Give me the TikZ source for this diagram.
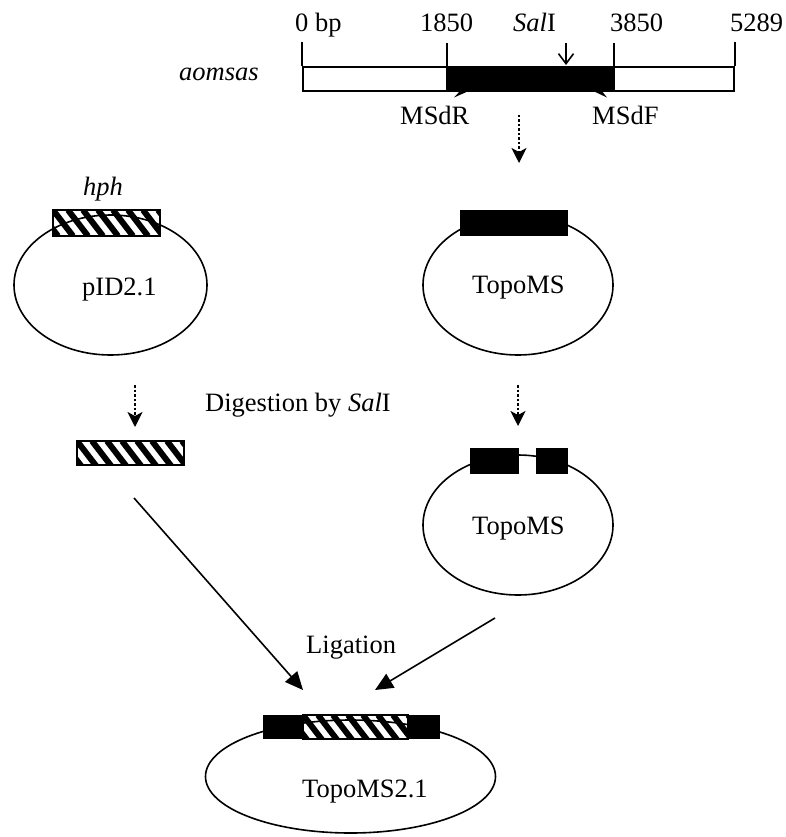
\documentclass[tikz,border=0pt]{standalone}
\usepackage{fontspec}
\setmainfont{Liberation Serif}
\usetikzlibrary{arrows.meta,shapes.geometric}
\newcommand\hatchfill[4]{%
  \begin{scope}
    \clip (#1,#2) rectangle (#3,#4);
    \foreach \s in {-45,-30,...,150}
      \draw[line width=6pt] ({#1+\s},#2) -- ++(20,26);
  \end{scope}}
\begin{document}
\begin{tikzpicture}[x=1pt,y=-1pt,
  lbl/.style={inner sep=0pt, font=\fontsize{26.5}{30}\selectfont, anchor=base west},
  plasmid/.style={draw, line width=1.6pt, ellipse, inner sep=0pt},
  blackbox/.style={fill=black, draw=none, inner sep=0pt, rectangle},
  hatchbox/.style={draw, line width=2pt, inner sep=0pt, rectangle},
  dotarrow/.style={line width=2pt, dash pattern=on 2.5pt off 2pt,
     -{Stealth[length=15pt,width=15pt,inset=4pt]}},
  solidarrow/.style={line width=1.6pt, -{Triangle[length=18pt,width=16pt]}},
  tick/.style={line width=2pt}]
\useasboundingbox (0,0) rectangle (786,837);

% ---- gene map ----
\node[draw, line width=2pt, minimum width=431pt, minimum height=24pt, inner sep=0pt] (gene) at (518.5,79) {};
\node[blackbox, minimum width=167pt, minimum height=24pt] (core) at (530.5,79) {};
\draw[tick] (gene.north west) -- ++(0,-24);
\draw[tick] (core.north west) -- ++(0,-24);
\draw[tick] (core.north east) -- ++(0,-24);
\draw[tick] (gene.north east) -- ++(0,-24);
\draw[tick] (core.south west) -- (core.north west);
\draw[tick] (core.south east) -- (core.north east);

\node[lbl] (l0) at (295,32) {0 bp};
\node[lbl] (l1850) at (420,32) {1850};
\node[lbl] (lsal) at (513,32) {\itshape Sal\upshape I};
\node[lbl] (l3850) at (610,32) {3850};
\node[lbl] (l5289) at (730,32) {5289};
\node[lbl] (aomsas) at (179,81) {\itshape aomsas};

\coordinate (saltop) at (566,43);
\coordinate (salcut) at (566,65);
\draw[line width=1.6pt, -{Straight Barb[length=10pt,width=15pt]}] (saltop) -- (salcut);

% primers
\fill (471,90) -- (454,97.5) -- (461,90) -- cycle;
\fill (591,90) -- (607,97.5) -- (601,90) -- cycle;
\node[lbl] (msdr) at (400,125) {MSdR};
\node[lbl] (msdf) at (592,125) {MSdF};

\coordinate (d1s) at (519,115);
\coordinate (d1e) at (519,163);
\draw[dotarrow] (d1s) -- (d1e);

% ---- pID2.1 ----
\node[plasmid, minimum width=193pt, minimum height=140pt] (pid) at (110.5,285) {};
\hatchfill{53}{210}{160}{236}
\node[hatchbox, minimum width=107pt, minimum height=26pt] (hph) at (106.5,223) {};
\node[lbl] (hphl) at (83,195) {\itshape hph};
\node[lbl] (pidl) at (82,295) {pID2.1};

% ---- TopoMS top ----
\node[plasmid, minimum width=190pt, minimum height=140pt] (topo1) at (518,285) {};
\node[blackbox, minimum width=108pt, minimum height=26pt] (ms1) at (514,223) {};
\node[lbl] (topo1l) at (472,293) {TopoMS};

% ---- digestion ----
\coordinate (d2s) at (135,385);
\coordinate (d2e) at (135,427);
\draw[dotarrow] (d2s) -- (d2e);
\coordinate (d3s) at (518,385);
\coordinate (d3e) at (518,426);
\draw[dotarrow] (d3s) -- (d3e);
\node[lbl] (dig) at (205,411) {Digestion by \itshape Sal\upshape I};

\hatchfill{77}{441}{184}{465}
\node[hatchbox, minimum width=107pt, minimum height=24pt] (frag) at (130.5,453) {};

% ---- TopoMS cut ----
\node[plasmid, minimum width=190pt, minimum height=140pt] (topo2) at (518,525) {};
\node[blackbox, minimum width=49pt, minimum height=26pt] (msa) at (494.5,461) {};
\node[blackbox, minimum width=32pt, minimum height=26pt] (msb) at (552,461) {};
\node[lbl] (topo2l) at (472,534) {TopoMS};

% ---- ligation ----
\coordinate (lig1s) at (134,498);
\coordinate (lig1e) at (303,690);
\coordinate (lig2s) at (495,618);
\coordinate (lig2e) at (375,690);
\draw[solidarrow] (lig1s) -- (lig1e);
\draw[solidarrow] (lig2s) -- (lig2e);
\node[lbl] (ligl) at (306,653) {Ligation};

% ---- TopoMS2.1 ----
\node[plasmid, minimum width=290pt, minimum height=113pt] (topo3) at (350.5,776.5) {};
\node[blackbox, minimum width=40pt, minimum height=24pt] (msc) at (283,727) {};
\node[blackbox, minimum width=32pt, minimum height=24pt] (msd) at (424,727) {};
\hatchfill{303}{715}{408}{739}
\node[hatchbox, minimum width=105pt, minimum height=24pt] (hph3) at (355.5,727) {};
\node[lbl] (topo3l) at (302,797) {TopoMS2.1};
\end{tikzpicture}
\end{document}
